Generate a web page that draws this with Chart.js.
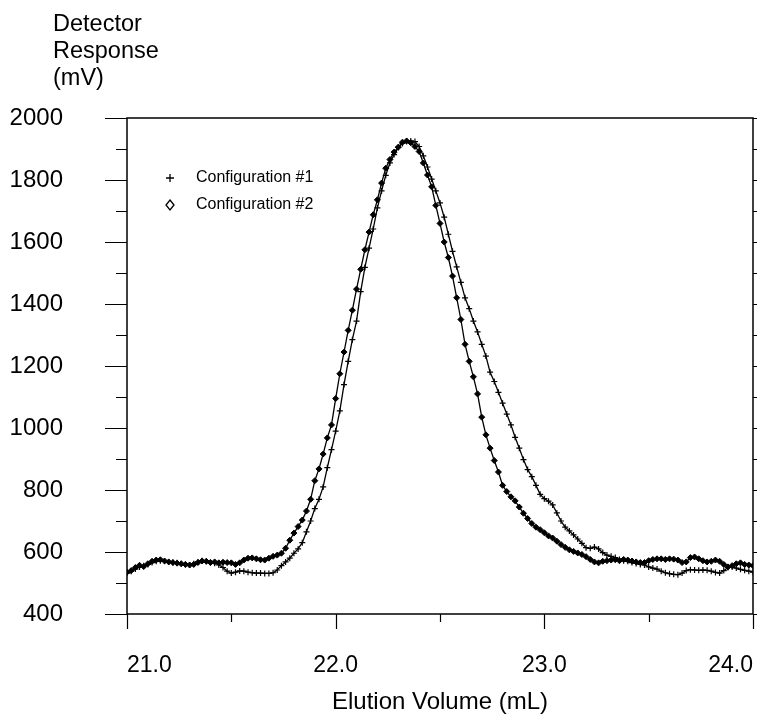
<!DOCTYPE html>
<html>
<head>
<meta charset="utf-8">
<title>Elution profile</title>
<script src="https://cdn.jsdelivr.net/npm/chart.js@4/dist/chart.umd.min.js"></script>
<style>
  html, body { margin: 0; padding: 0; background: #fff; }
  #wrap { width: 769px; height: 717px; }
</style>
</head>
<body>
<div id="wrap"><canvas id="elutionChart" width="769" height="717"></canvas></div>
<script>
// ── data ────────────────────────────────────────────────────
const volumes = [
  21.00, 21.02, 21.04, 21.06, 21.08, 21.10, 21.12, 21.14, 21.16, 21.18,
  21.20, 21.22, 21.24, 21.26, 21.28, 21.30, 21.32, 21.34, 21.36, 21.38,
  21.40, 21.42, 21.44, 21.46, 21.48, 21.50, 21.52, 21.54, 21.56, 21.58,
  21.60, 21.62, 21.64, 21.66, 21.68, 21.70, 21.72, 21.74, 21.76, 21.78,
  21.80, 21.82, 21.84, 21.86, 21.88, 21.90, 21.92, 21.94, 21.96, 21.98,
  22.00, 22.02, 22.04, 22.06, 22.08, 22.10, 22.12, 22.14, 22.16, 22.18,
  22.20, 22.22, 22.24, 22.26, 22.28, 22.30, 22.32, 22.34, 22.36, 22.38,
  22.40, 22.42, 22.44, 22.46, 22.48, 22.50, 22.52, 22.54, 22.56, 22.58,
  22.60, 22.62, 22.64, 22.66, 22.68, 22.70, 22.72, 22.74, 22.76, 22.78,
  22.80, 22.82, 22.84, 22.86, 22.88, 22.90, 22.92, 22.94, 22.96, 22.98,
  23.00, 23.02, 23.04, 23.06, 23.08, 23.10, 23.12, 23.14, 23.16, 23.18,
  23.20, 23.22, 23.24, 23.26, 23.28, 23.30, 23.32, 23.34, 23.36, 23.38,
  23.40, 23.42, 23.44, 23.46, 23.48, 23.50, 23.52, 23.54, 23.56, 23.58,
  23.60, 23.62, 23.64, 23.66, 23.68, 23.70, 23.72, 23.74, 23.76, 23.78,
  23.80, 23.82, 23.84, 23.86, 23.88, 23.90, 23.92, 23.94, 23.96, 23.98,
  24.00,
];

// Configuration #1 (+)
const config1 = [
  532, 538, 545, 552, 556, 560, 566, 570, 572, 570,
  568, 566, 565, 562, 560, 558, 562, 568, 572, 570,
  566, 564, 558, 550, 538, 532, 535, 539, 538, 535,
  533, 532, 532, 531, 531, 533, 542, 556, 568, 580,
  596, 610, 630, 665, 700, 740, 770, 810, 872, 930,
  990, 1055, 1140, 1215, 1285, 1345, 1440, 1518, 1580, 1642,
  1710, 1765, 1815, 1855, 1882, 1905, 1918, 1924, 1926, 1924,
  1908, 1878, 1842, 1803, 1765, 1726, 1680, 1625, 1570, 1520,
  1470, 1420, 1385, 1345, 1310, 1270, 1232, 1180, 1150, 1115,
  1080, 1045, 1010, 970, 935, 898, 866, 843, 815, 786,
  772, 764, 752, 726, 700, 680, 668, 655, 642, 628,
  614, 612, 616, 610, 598, 590, 586, 582, 576, 572,
  570, 566, 563, 560, 558, 552, 548, 545, 538, 533,
  530, 528, 527, 532, 540, 543, 542, 541, 542, 541,
  538, 534, 532, 540, 550, 552, 548, 544, 541, 538,
  535,
];

// Configuration #2 (◇)
const config2 = [
  535, 540, 550, 557, 553, 562, 570, 574, 575, 571,
  568, 566, 564, 562, 560, 558, 560, 566, 571, 570,
  566, 568, 565, 567, 566, 565, 560, 565, 574, 580,
  581, 578, 575, 574, 580, 586, 590, 596, 612, 638,
  661, 682, 703, 732, 770, 830, 868, 916, 968, 1010,
  1095, 1175, 1245, 1315, 1380, 1448, 1512, 1575, 1632, 1688,
  1736, 1790, 1838, 1866, 1890, 1906, 1922, 1926, 1920, 1908,
  1892, 1855, 1816, 1778, 1718, 1660, 1600, 1550, 1490, 1420,
  1350, 1270, 1215, 1165, 1110, 1035, 978, 935, 895, 858,
  815, 795, 778, 765, 745, 725, 708, 692, 680, 672,
  662, 652, 645, 635, 624, 615, 607, 602, 597, 592,
  585, 576, 568, 565, 570, 572, 574, 575, 572, 576,
  574, 571, 568, 566, 566, 572, 576, 578, 578, 576,
  578, 577, 574, 566, 568, 582, 584, 578, 572, 568,
  570, 574, 570, 560, 552, 556, 562, 565, 560, 558,
  556,
];

const seriesLabels = ["Configuration #1", "Configuration #2"];
const yTitleLines  = ["Detector", "Response", "(mV)"];
const xTitle       = "Elution Volume (mL)";

// tick positions (labelled + unlabelled minor)
const yTickValues = [400, 500, 600, 700, 800, 900, 1000, 1100, 1200, 1300, 1400, 1500, 1600, 1700, 1800, 1900, 2000];
const xTickValues = [21.0, 21.5, 22.0, 22.5, 23.0, 23.5, 24.0];
const xLabelValues = [21, 22, 23, 24];

const FONT = '"Liberation Sans", Arial, Helvetica, sans-serif';

// ── frame, hand-style tick marks, y title, inset legend ────
const framePlugin = {
  id: "frameTicks",
  afterDraw(chart) {
    const { ctx, chartArea: a, scales: { x, y } } = chart;
    ctx.save();
    ctx.strokeStyle = "#000";
    ctx.lineWidth = 1.5;
    ctx.strokeRect(a.left, a.top, a.right - a.left, a.bottom - a.top);

    ctx.lineWidth = 1.2;
    ctx.beginPath();
    yTickValues.forEach(v => {
      const py = Math.round(y.getPixelForValue(v)) + 0.5;
      const len = v % 200 === 0 ? 22 : 11;
      ctx.moveTo(a.left - len, py); ctx.lineTo(a.left, py);
      ctx.moveTo(a.right, py);      ctx.lineTo(a.right + 4, py);
    });
    xTickValues.forEach(v => {
      const px = Math.round(x.getPixelForValue(v)) + 0.5;
      const len = Number.isInteger(v) ? 15 : 8;
      ctx.moveTo(px, a.bottom); ctx.lineTo(px, a.bottom + len);
    });
    ctx.stroke();

    // y title, stacked top-left
    ctx.fillStyle = "#000";
    ctx.font = `23.5px ${FONT}`;
    ctx.textAlign = "left";
    ctx.textBaseline = "middle";
    yTitleLines.forEach((t, i) => ctx.fillText(t, 53, 25 + i * 27));

    // legend inside plot
    ctx.font = `16px ${FONT}`;
    const lx = 170, ly = [178, 205];
    ctx.lineWidth = 1.3;
    ctx.beginPath();
    ctx.moveTo(lx - 4, ly[0]); ctx.lineTo(lx + 4, ly[0]);
    ctx.moveTo(lx, ly[0] - 4); ctx.lineTo(lx, ly[0] + 4);
    ctx.moveTo(lx, ly[1] - 5); ctx.lineTo(lx + 4, ly[1]);
    ctx.lineTo(lx, ly[1] + 5); ctx.lineTo(lx - 4, ly[1]);
    ctx.closePath();
    ctx.stroke();
    seriesLabels.forEach((t, i) => ctx.fillText(t, 196, ly[i]));
    ctx.restore();
  },
};

const toPoints = vals => volumes.map((v, i) => ({ x: v, y: vals[i] }));

new Chart(document.getElementById("elutionChart").getContext("2d"), {
  type: "line",
  data: {
    datasets: [
      {
        label: seriesLabels[0],
        data: toPoints(config1),
        borderColor: "#000",
        borderWidth: 1.3,
        pointStyle: "cross",
        pointRadius: 3,
        pointBorderWidth: 1.2,
        pointBorderColor: "#000",
        tension: 0,
      },
      {
        label: seriesLabels[1],
        data: toPoints(config2),
        borderColor: "#000",
        borderWidth: 1.3,
        pointStyle: "rectRot",
        pointRadius: 3,
        pointBorderWidth: 1,
        pointBorderColor: "#000",
        pointBackgroundColor: "#000",
        tension: 0,
      },
    ],
  },
  options: {
    responsive: false,
    animation: false,
    events: [],
    layout: { padding: { left: 0, right: 16, top: 118, bottom: 0 } },
    plugins: {
      legend: { display: false },
      tooltip: { enabled: false },
    },
    scales: {
      x: {
        type: "linear",
        min: 21, max: 24,
        grid: { display: false },
        border: { display: false },
        afterFit: s => { s.height = 103; s.paddingLeft = 0; s.paddingRight = 0; },
        afterBuildTicks: s => { s.ticks = xLabelValues.map(v => ({ value: v })); },
        ticks: {
          padding: 30,
          align: "inner",
          color: "#000",
          font: { family: FONT, size: 23 },
          callback: v => Number(v).toFixed(1),
        },
        title: {
          display: true,
          text: xTitle,
          color: "#000",
          font: { family: FONT, size: 24 },
          padding: { top: 11, bottom: 0 },
        },
      },
      y: {
        min: 400, max: 2000,
        grid: { display: false },
        border: { display: false },
        afterFit: s => { s.width = 127; s.paddingTop = 0; s.paddingBottom = 0; },
        ticks: {
          stepSize: 200,
          padding: 56,
          color: "#000",
          font: { family: FONT, size: 24 },
          callback: v => String(v),
        },
      },
    },
  },
  plugins: [framePlugin],
});
</script>
</body>
</html>
